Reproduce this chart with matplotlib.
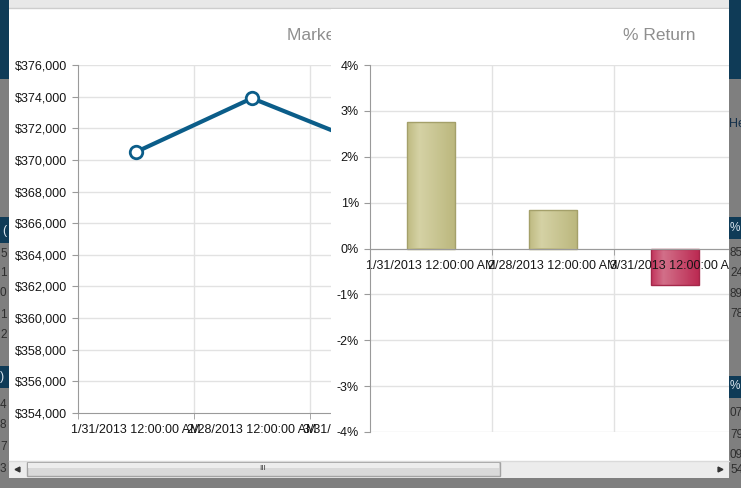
import numpy as np
import matplotlib
matplotlib.use("Agg")
import matplotlib.pyplot as plt
from matplotlib.patches import Rectangle
from matplotlib.colors import LinearSegmentedColormap
from matplotlib.ticker import FuncFormatter, FixedLocator

plt.rcParams['font.family'] = ['Liberation Sans', 'DejaVu Sans']

# data
dates = ['1/31/2013 12:00:00 AM', '2/28/2013 12:00:00 AM', '3/31/2013 12:00:00 AM']
market_value = [370500, 373900, 370950]
pct_return = [2.75, 0.85, -0.80]

# bits of the page that shows behind the dialog
left_rows_a = ['5', '1', '0', '1', '2']
left_rows_b = ['4', '8', '7', '3']
right_rows_a = ['85', '24', '89', '78']
right_rows_b = ['07', '79', '09', '54']

W, H = 741, 488
fig = plt.figure(figsize=(W / 100, H / 100), dpi=100)
fig.patch.set_facecolor('#7f7f7f')

NAVY = '#0f3b57'
TXT = '#151515'
GRID = '#e2e2e2'
SPINE = '#9a9a9a'
FS = 9.0


def box(x0, y0, x1, y1):
    return [x0 / W, 1 - y1 / H, (x1 - x0) / W, (y1 - y0) / H]


def overlay(z):
    a = fig.add_axes([0, 0, 1, 1], zorder=z)
    a.set_xlim(0, W)
    a.set_ylim(H, 0)
    a.axis('off')
    a.patch.set_alpha(0)
    return a


# dialog body + title bar
bg = overlay(0)
bg.add_patch(Rectangle((9, 0), 720, 478, facecolor='white', edgecolor='none'))
bg.add_patch(Rectangle((9, 0), 720, 8, facecolor='#e8e8e8', edgecolor='none'))
bg.plot([9, 729], [8, 8], color='#cdcdcd', lw=1)
bg.text(287, 36, 'Market Value', fontsize=12.5, color='#8f8f8f', va='center', ha='left')

# left chart: market value
ax1 = fig.add_axes(box(78, 65, 426, 413), zorder=1)
x = np.arange(len(dates))
ax1.plot(x, market_value, color='#0b5d89', lw=3, marker='o', ms=9,
         mfc='white', mec='#0b5d89', mew=2, zorder=3)
ax1.set_xlim(-0.5, 2.5)
ax1.set_ylim(354000, 376000)
ax1.set_yticks(np.arange(354000, 376001, 2000))
ax1.yaxis.set_major_formatter(FuncFormatter(lambda v, p: '${:,.0f}'.format(v)))
ax1.set_xticks(x)
ax1.set_xticklabels(dates)
ax1.xaxis.set_minor_locator(FixedLocator([-0.5, 0.5, 1.5, 2.5]))
for v in [0.5, 1.5]:
    ax1.axvline(v, color=GRID, lw=1, zorder=0)
for v in np.arange(356000, 376001, 2000):
    ax1.axhline(v, color=GRID, lw=1, zorder=0)
ax1.tick_params(axis='x', which='major', length=0, pad=8, labelsize=FS, labelcolor=TXT)
ax1.tick_params(axis='x', which='minor', length=4, color=SPINE, direction='out')
ax1.tick_params(axis='y', length=4, color=SPINE, pad=4, labelsize=FS, labelcolor=TXT)
for s in ['top', 'right']:
    ax1.spines[s].set_visible(False)
for s in ['left', 'bottom']:
    ax1.spines[s].set_color(SPINE)

# right chart panel covers the left one
mid = overlay(2)
mid.add_patch(Rectangle((331, 9), 398, 452, facecolor='white', edgecolor='none'))
mid.text(623, 36, '% Return', fontsize=12.5, color='#8f8f8f', va='center', ha='left')

# right chart: % return
ax2 = fig.add_axes(box(370, 65, 736, 432), zorder=3)
ax2.patch.set_alpha(0)
for v in np.arange(-4, 5, 1):
    ax2.axhline(v, color=GRID, lw=1, zorder=0.1)
for v in [0.5, 1.5]:
    ax2.axvline(v, color=GRID, lw=1, zorder=0.1)

olive = LinearSegmentedColormap.from_list('olive', [(0, '#bfbb82'), (0.25, '#d5d2a5'), (1, '#bbb77d')])
rose = LinearSegmentedColormap.from_list('rose', [(0, '#c2345c'), (0.25, '#d27089'), (1, '#bb2851')])
grad = np.linspace(0, 1, 64).reshape(1, -1)
bw = 0.4
bars = ax2.bar(x, pct_return, width=bw, color='#c4c08a', edgecolor='none', zorder=1)
for b, val in zip(bars, pct_return):
    cm = olive if val >= 0 else rose
    im = ax2.imshow(grad, extent=[b.get_x(), b.get_x() + bw, min(0, val), max(0, val)],
                    aspect='auto', cmap=cm, zorder=1.05)
    im.set_clip_path(b)
ax2.bar(x, pct_return, width=bw, fill=False,
        edgecolor=['#a4a06a' if v >= 0 else '#a4284a' for v in pct_return], lw=1, zorder=1.1)

ax2.set_xlim(-0.5, 2.5)
ax2.set_ylim(-4, 4)
ax2.set_yticks(np.arange(-4, 5, 1))
ax2.yaxis.set_major_formatter(FuncFormatter(lambda v, p: '{:.0f}%'.format(v)))
ax2.set_xticks(x)
ax2.set_xticklabels(dates)
ax2.xaxis.set_minor_locator(FixedLocator([0.5, 1.5, 2.5]))
ax2.spines['bottom'].set_position(('data', 0))
ax2.spines['bottom'].set_color(SPINE)
ax2.spines['left'].set_color(SPINE)
for s in ['top', 'right']:
    ax2.spines[s].set_visible(False)
ax2.tick_params(axis='x', which='major', length=0, pad=8, labelsize=FS, labelcolor=TXT)
ax2.tick_params(axis='x', which='minor', length=4, color=SPINE, direction='out')
ax2.tick_params(axis='y', length=4, color=SPINE, pad=4, labelsize=FS, labelcolor=TXT)

# page edges + scrollbar on top
top = overlay(5)
top.add_patch(Rectangle((0, 0), 9, 478, facecolor='#7f7f7f', edgecolor='none'))
top.add_patch(Rectangle((729, 0), 12, 478, facecolor='#7f7f7f', edgecolor='none'))
top.add_patch(Rectangle((0, 0), 9, 79, facecolor=NAVY, edgecolor='none'))
top.add_patch(Rectangle((729, 0), 12, 79, facecolor=NAVY, edgecolor='none'))
top.add_patch(Rectangle((0, 217), 9, 26, facecolor=NAVY, edgecolor='none'))
top.add_patch(Rectangle((729, 217), 12, 22, facecolor=NAVY, edgecolor='none'))
top.add_patch(Rectangle((0, 366), 9, 22, facecolor=NAVY, edgecolor='none'))
top.add_patch(Rectangle((729, 376), 12, 22, facecolor=NAVY, edgecolor='none'))
top.text(2, 231, '(', fontsize=9, color='#d8e4ee', va='center')
top.text(0, 377, ')', fontsize=9, color='#d8e4ee', va='center')
top.text(730, 228, '%', fontsize=8.5, color='#d8e4ee', va='center')
top.text(730, 386, '%', fontsize=8.5, color='#d8e4ee', va='center')
top.text(729, 124, 'He', fontsize=9, color='#14304a', va='center')
for t, yy in zip(left_rows_a, [254, 273, 293, 315, 335]):
    top.text(0, yy, t, fontsize=8.5, color='#2e2e2e', va='center')
for t, yy in zip(left_rows_b, [405, 425, 447, 469]):
    top.text(0, yy, t, fontsize=8.5, color='#2e2e2e', va='center')
for t, yy in zip(right_rows_a, [253, 273, 294, 314]):
    top.text(730, yy, t, fontsize=8.5, color='#2e2e2e', va='center')
for t, yy in zip(right_rows_b, [413, 435, 455, 470]):
    top.text(730, yy, t, fontsize=8.5, color='#2e2e2e', va='center')

top.add_patch(Rectangle((9, 461), 720, 17, facecolor='#ececec', edgecolor='none'))
top.plot([9, 729], [461, 461], color='#dadada', lw=1)
top.add_patch(Rectangle((27, 462), 473, 14, facecolor='#d9d9d9', edgecolor='#a3a3a3', lw=1))
top.add_patch(Rectangle((28, 463), 471, 5, facecolor='#ededed', edgecolor='none'))
top.text(263, 469, 'III', fontsize=6, color='#444444', ha='center', va='center')
top.plot([17], [469], marker='<', ms=3.5, color='#333333')
top.plot([720], [469], marker='>', ms=3.5, color='#333333')

fig.savefig('out.png', dpi=100, facecolor=fig.get_facecolor())
